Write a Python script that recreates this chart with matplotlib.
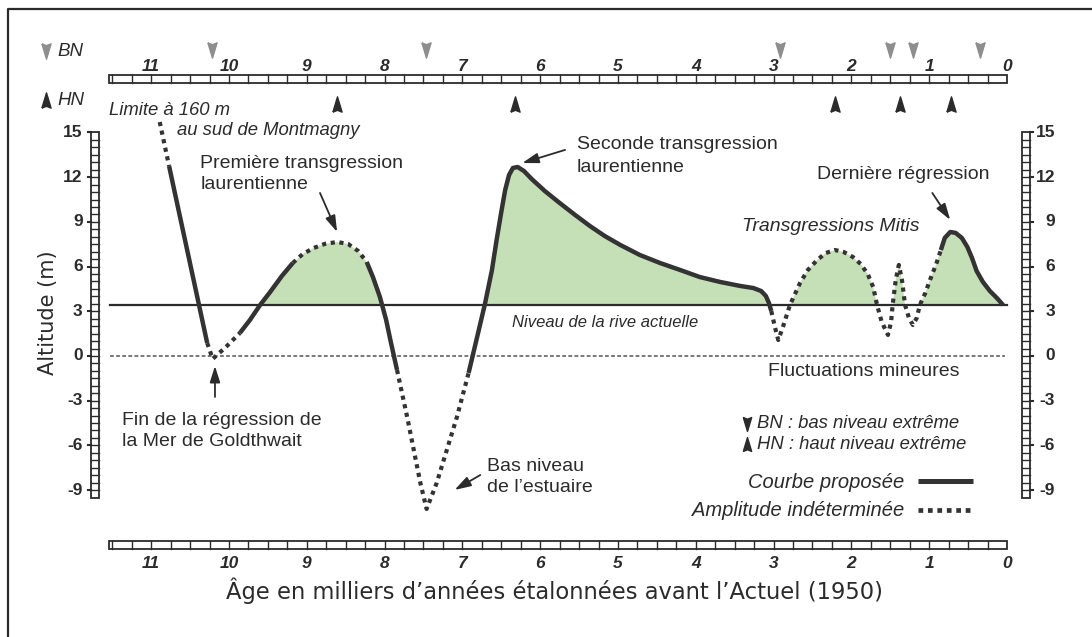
import numpy as np
import matplotlib
matplotlib.use('Agg')
import matplotlib.pyplot as plt
from matplotlib.patches import Rectangle

plt.rcParams['font.family'] = ['Liberation Sans', 'DejaVu Sans']

# Relative sea-level curve: age (ka cal BP) and altitude (m)
curve_age = [10.89, 10.77, 10.28, 10.24, 10.21, 10.04, 9.86, 9.73, 9.60, 9.47,
             9.32, 9.18, 9.05, 8.91, 8.77, 8.61, 8.47, 8.34, 8.23, 8.15,
             8.06, 7.98, 7.92, 7.84, 7.71, 7.54, 7.46, 7.33, 7.07, 6.92,
             6.81, 6.71, 6.62, 6.56, 6.50, 6.45, 6.40, 6.35, 6.29, 6.21,
             6.11, 5.94, 5.75, 5.55, 5.36, 5.17, 4.97, 4.72, 4.46, 4.20,
             3.95, 3.69, 3.43, 3.26, 3.16, 3.10, 3.06, 3.03, 2.98, 2.94,
             2.88, 2.79, 2.66, 2.56, 2.44, 2.33, 2.21, 2.10, 1.98, 1.88,
             1.79, 1.72, 1.67, 1.61, 1.53, 1.49, 1.47, 1.43, 1.39, 1.35,
             1.31, 1.26, 1.21, 1.16, 1.12, 1.05, 0.99, 0.91, 0.85, 0.80,
             0.73, 0.66, 0.58, 0.51, 0.45, 0.39, 0.31, 0.22, 0.13, 0.05]
curve_alt = [15.7, 12.75, 0.87, 0.27, -0.2, 0.6, 1.54, 2.42, 3.42, 4.30,
             5.37, 6.24, 6.85, 7.25, 7.52, 7.65, 7.52, 7.05, 6.31, 5.30,
             3.96, 2.42, 0.94, -0.94, -4.09, -8.52, -10.27, -8.52, -4.09, -1.14,
             1.28, 3.49, 5.77, 7.79, 9.66, 11.14, 12.15, 12.62, 12.68, 12.42,
             11.88, 11.07, 10.27, 9.46, 8.72, 8.05, 7.45, 6.78, 6.24, 5.77,
             5.30, 4.97, 4.70, 4.56, 4.36, 4.03, 3.56, 3.02, 1.88, 1.07,
             1.95, 3.42, 4.90, 5.77, 6.44, 6.91, 7.11, 6.98, 6.64, 6.17,
             5.50, 4.63, 3.42, 2.28, 1.41, 2.28, 3.42, 5.10, 6.11, 5.10,
             3.42, 2.55, 2.08, 2.55, 3.42, 4.23, 5.10, 6.17, 7.11, 7.92,
             8.32, 8.26, 7.92, 7.32, 6.58, 5.70, 4.97, 4.36, 3.89, 3.42]
# stretches of the curve: index limits, 1 = courbe proposée, 0 = amplitude indéterminée
segment_breaks = [0, 1, 2, 6, 11, 18, 23, 29, 57, 88, 99]
segment_solid = [0, 1, 0, 1, 0, 1, 0, 1, 0, 1]

shore_level = 3.4
bn_ages = [10.22, 7.47, 2.92, 1.50, 1.21, 0.35]
hn_ages = [8.61, 6.32, 2.21, 1.38, 0.72]
age_ticks = list(range(0, 12))
alt_ticks = list(range(-9, 16, 3))

dark = '#2b2b2b'
curve_col = '#333333'
green = '#c5e0b6'
grey_tri = '#8e8e8e'

down_tri = [(-0.3, 0.5), (0, 0.38), (0.3, 0.5), (0, -0.5), (-0.3, 0.5)]
up_tri = [(-0.3, -0.5), (0, -0.38), (0.3, -0.5), (0, 0.5), (-0.3, -0.5)]

fig = plt.figure(figsize=(10.92, 6.37), dpi=100)
ax = fig.add_axes([0, 0, 1, 1])
ax.set_xlim(12.943, -1.0925)
ax.set_ylim(-18.86, 23.89)
ax.axis('off')

# frame (only left and top are visible in the original crop)
ax.plot([12.84, 12.84, -1.2], [-20, 23.3, 23.3], color=dark, lw=1.6, clip_on=False)

# green areas above the present shore level (not under the Goldthwait regression)
ca = np.array(curve_age)
cy = np.array(curve_alt)
ax.fill_between(ca, cy, shore_level, where=(cy >= shore_level) & (ca < 10.0),
                interpolate=True, color=green, lw=0, zorder=1)

# reference lines
ax.plot([11.53, 0], [shore_level, shore_level], color=dark, lw=1.6, zorder=2)
ax.plot([11.53, 0.03], [0, 0], color='#555555', lw=1.1, dashes=(2.5, 1.5), zorder=2)

# curve
for k, solid in enumerate(segment_solid):
    i0, i1 = segment_breaks[k], segment_breaks[k + 1]
    xs, ys = curve_age[i0:i1 + 1], curve_alt[i0:i1 + 1]
    if solid:
        ax.plot(xs, ys, color=curve_col, lw=3.2, solid_capstyle='butt',
                solid_joinstyle='round', zorder=3)
    else:
        ax.plot(xs, ys, color=curve_col, lw=3.0, linestyle=(0, (1, 1.1)),
                dash_capstyle='butt', zorder=3)


# segmented scale bars
def hbar(y0, y1):
    ax.add_patch(Rectangle((0, y0), 11.54, y1 - y0, fc='white', ec=dark, lw=1.3))
    for a in np.arange(0.25, 11.54, 0.25):
        ax.plot([a, a], [y0, y1], color=dark, lw=1.0)


def vbar(x0, x1):
    ax.add_patch(Rectangle((x1, -9.5), x0 - x1, 24.55, fc='white', ec=dark, lw=1.3))
    for h in np.arange(-9.0, 15.0, 0.5):
        ax.plot([x0, x1], [h, h], color=dark, lw=1.0)


hbar(18.32, 18.83)
hbar(-12.95, -12.42)
vbar(11.77, 11.67)
vbar(-0.19, -0.30)

for a in age_ticks:
    ax.text(a, 19.45, str(a), ha='center', va='center', fontsize=12.5,
            fontweight='bold', fontstyle='italic', color=dark)
    ax.text(a, -13.9, str(a), ha='center', va='center', fontsize=12.5,
            fontweight='bold', fontstyle='italic', color=dark)

for h in alt_ticks:
    ax.text(11.88, h, str(h), ha='right', va='center', fontsize=12.5,
            fontweight='bold', color=dark)
    ax.text(-0.62, h, str(h), ha='right', va='center', fontsize=12.5,
            fontweight='bold', color=dark)
    ax.plot([11.77, 11.81], [h, h], color=dark, lw=1.5)
    ax.plot([-0.30, -0.34], [h, h], color=dark, lw=1.5)

ax.text(5.81, -15.75, 'Âge en milliers d’années étalonnées avant l’Actuel (1950)',
        ha='center', va='center', fontsize=16.3, family='DejaVu Sans', color=dark)
ax.text(12.33, 2.9, 'Altitude (m)', rotation=90, ha='center', va='center',
        fontsize=15, family='DejaVu Sans', color=dark)

# extreme low (BN) and high (HN) levels
ax.plot(bn_ages, [20.54] * len(bn_ages), ls='none', marker=down_tri,
        ms=11, color=grey_tri)
ax.plot(hn_ages, [16.91] * len(hn_ages), ls='none', marker=up_tri,
        ms=11, color=dark)
ax.plot([12.35], [20.5], ls='none', marker=down_tri, ms=11, color=grey_tri)
ax.plot([12.35], [17.2], ls='none', marker=up_tri, ms=11, color=dark)
ax.text(12.20, 20.45, 'BN', ha='left', va='center', fontsize=13.5,
        fontstyle='italic', color=dark)
ax.text(12.20, 17.15, 'HN', ha='left', va='center', fontsize=13.5,
        fontstyle='italic', color=dark)

# annotations
txt = dict(ha='left', va='center', fontsize=14, color=dark)
ax.text(11.54, 16.48, 'Limite à 160 m', fontstyle='italic', **{**txt, 'fontsize': 13.3})
ax.text(10.67, 15.13, 'au sud de Montmagny', fontstyle='italic', **{**txt, 'fontsize': 13.3})
ax.text(10.37, 12.95, 'Première transgression', **txt)
ax.text(10.37, 11.48, 'laurentienne', **txt)
ax.text(5.53, 14.16, 'Seconde transgression', **txt)
ax.text(5.53, 12.68, 'laurentienne', **txt)
ax.text(2.44, 12.15, 'Dernière régression', **txt)
ax.text(3.41, 8.66, 'Transgressions Mitis', fontstyle='italic', **txt)
ax.text(6.36, 2.28, 'Niveau de la rive actuelle', fontstyle='italic', **{**txt, 'fontsize': 12})
ax.text(3.07, -1.07, 'Fluctuations mineures', **txt)
ax.text(11.38, -4.30, 'Fin de la régression de', **txt)
ax.text(11.38, -5.77, 'la Mer de Goldthwait', **txt)
ax.text(6.68, -7.45, 'Bas niveau', **txt)
ax.text(6.68, -8.86, 'de l’estuaire', **txt)

arrow = dict(arrowstyle='-|>,head_width=0.22,head_length=0.7', color=dark, lw=1.3,
             shrinkA=0, shrinkB=0, mutation_scale=14)
for tail, head in [((8.83, 10.94), (8.61, 8.32)),
                   ((5.68, 13.83), (6.23, 12.95)),
                   ((0.96, 10.94), (0.73, 9.13)),
                   ((10.18, -2.75), (10.18, -0.67)),
                   ((6.77, -7.99), (7.10, -8.99))]:
    ax.annotate('', xy=head, xytext=tail, arrowprops=arrow)

# legend
ax.plot([3.34], [-4.56], ls='none', marker=down_tri, ms=10, color=dark)
ax.plot([3.34], [-5.91], ls='none', marker=up_tri, ms=10, color=dark)
ax.text(3.21, -4.56, 'BN : bas niveau extrême', fontstyle='italic', **{**txt, 'fontsize': 13.3})
ax.text(3.21, -5.91, 'HN : haut niveau extrême', fontstyle='italic', **{**txt, 'fontsize': 13.3})
ax.text(1.32, -8.46, 'Courbe proposée', ha='right', va='center', fontsize=14.5,
        fontstyle='italic', color=dark)
ax.text(1.32, -10.34, 'Amplitude indéterminée', ha='right', va='center', fontsize=14.5,
        fontstyle='italic', color=dark)
ax.plot([1.144, 0.437], [-8.39, -8.39], color=curve_col, lw=3.6, solid_capstyle='butt')
ax.plot([1.144, 0.437], [-10.34, -10.34], color=curve_col, lw=3.4,
        linestyle=(0, (1, 1)), dash_capstyle='butt')

fig.savefig('out.png', dpi=100)
